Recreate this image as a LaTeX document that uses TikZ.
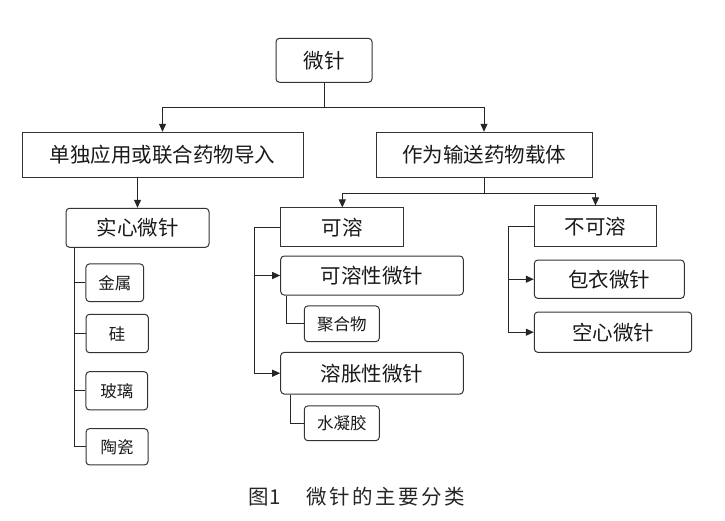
\documentclass[tikz,border=0pt]{standalone}
\usepackage{fontspec}
\setmainfont{Noto Sans CJK SC}
\newfontfamily\cjk{Noto Sans CJK SC}
\usetikzlibrary{arrows.meta}
\tikzset{
  x=1pt, y=-1pt,
  every node/.style={inner sep=0pt, text=black!90},
  sqbox/.style={draw=black!80, line width=1pt, font=\cjk\fontsize{20.5}{24}\selectfont},
  rbox/.style={sqbox, rounded corners=3.5pt},
  smbox/.style={draw=black!80, line width=1pt, rounded corners=3.5pt, font=\cjk\fontsize{16.5}{20}\selectfont},
  conn/.style={draw=black!85, line width=1pt},
  arr/.style={conn, -{Triangle[length=8pt,width=7pt]}},
}
\begin{document}
\begin{tikzpicture}
\useasboundingbox (0,0) rectangle (725,520);
% nodes
\node[rbox, minimum width=96pt, minimum height=44pt] (top) at (324,60.3) {微针};
\node[sqbox, minimum width=281pt, minimum height=45pt] (A) at (162.5,154.8) {单独应用或联合药物导入};
\node[sqbox, minimum width=216pt, minimum height=45pt] (B) at (484,154.8) {作为输送药物载体};
\node[rbox, minimum width=143pt, minimum height=39pt] (C) at (137.5,227.8) {实心微针};
\node[smbox, minimum width=57.7pt, minimum height=37.7pt] (m1) at (114.8,282.8) {金属};
\node[smbox, minimum width=62.3pt, minimum height=38.4pt] (m2) at (117.2,333.5) {硅};
\node[smbox, minimum width=61.7pt, minimum height=38.3pt] (m3) at (116.8,390.8) {玻璃};
\node[smbox, minimum width=62pt, minimum height=36.3pt] (m4) at (117,446.8) {陶瓷};
\node[sqbox, minimum width=123.3pt, minimum height=38.7pt] (ks) at (342.3,227.3) {可溶};
\node[rbox, minimum width=182.6pt, minimum height=39pt] (kx) at (372,275.5) {可溶性微针};
\node[smbox, minimum width=75pt, minimum height=35.7pt] (jh) at (341.8,323.8) {聚合物};
\node[rbox, minimum width=182.6pt, minimum height=41.7pt] (rz) at (372,373.2) {溶胀性微针};
\node[smbox, minimum width=75pt, minimum height=34.7pt] (sn) at (341.8,423.3) {水凝胶};
\node[sqbox, minimum width=122.4pt, minimum height=40.7pt] (bk) at (595.5,226.3) {不可溶};
\node[rbox, minimum width=150pt, minimum height=38.3pt] (by) at (609.3,279.2) {包衣微针};
\node[rbox, minimum width=157.4pt, minimum height=40.3pt] (kk) at (613,332.2) {空心微针};
\node[font=\cjk\fontsize{20.5}{24}\selectfont, text=black!85] (cap) at (357,497)
  {图1\hspace{26pt}微\hspace{2.5pt}针\hspace{2.5pt}的\hspace{2.5pt}主\hspace{2.5pt}要\hspace{2.5pt}分\hspace{2.5pt}类};
% connectors
\coordinate (j1) at (top.south |- 0,107.3);
\draw[conn] (top.south) -- (j1);
\draw[arr] (j1) -| (A.north);
\draw[arr] (j1) -| (B.north);
\draw[arr] (A.south -| C.north) -- (C.north);
\coordinate (j2) at (B.south |- 0,193.3);
\draw[conn] (B.south) -- (j2);
\draw[arr] (j2) -| (ks.north);
\draw[arr] (j2) -| (bk.north);
% solid microneedle spine
\coordinate (cs) at ([xshift=9pt]C.south west);
\draw[conn] (cs) |- (m1.west);
\draw[conn] (cs) |- (m2.west);
\draw[conn] (cs) |- (m3.west);
\draw[conn] (cs) |- (m4.west);
% soluble spine
\coordinate (ksl) at ([xshift=-26pt]ks.west);
\draw[conn] (ks.west) -- (ksl);
\draw[arr] (ksl) |- (kx.west);
\draw[arr] (ksl) |- (rz.west);
\draw[conn] ([xshift=6pt]kx.south west) |- (jh.west);
\draw[conn] ([xshift=10pt]rz.south west) |- (sn.west);
% insoluble spine
\coordinate (bkl) at ([xshift=-25.3pt]bk.west);
\draw[conn] (bk.west) -- (bkl);
\draw[arr] (bkl) |- (by.west);
\draw[arr] (bkl) |- (kk.west);
\end{tikzpicture}
\end{document}
